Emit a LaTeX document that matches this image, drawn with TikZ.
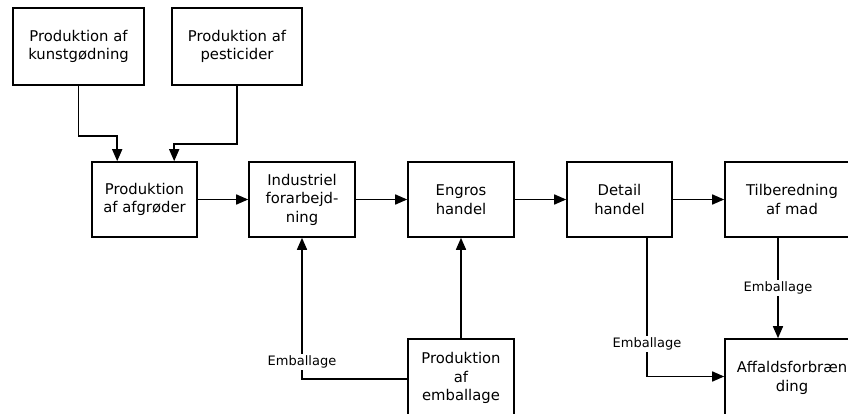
\documentclass[tikz,border=0pt]{standalone}
\usepackage{fontspec}
\setmainfont{DejaVu Sans}
\usetikzlibrary{arrows.meta}
\begin{document}
\begin{tikzpicture}[x=1pt,y=1pt,
  box/.style={draw,line width=1.6pt,minimum height=75pt,align=center,inner sep=0pt,
    font=\fontsize{14.8}{18.5}\selectfont},
  conn/.style={line width=1.5pt,-{Triangle[length=12pt,width=10pt]}},
  lbl/.style={fill=white,inner sep=2pt,font=\fontsize{13}{15}\selectfont}]
\clip (0,0) rectangle (848,-414);
\useasboundingbox (0,0) rectangle (848,-414);
\node[box,minimum width=131pt,minimum height=77pt] (b1) at (78.5,-46.5) {Produktion af\\kunstgødning};
\node[box,minimum width=130pt,minimum height=77pt] (b2) at (237,-46.5) {Produktion af\\pesticider};
\node[box,minimum width=105pt] (b3) at (144.5,-199.5) {Produktion\\af afgrøder};
\node[box,minimum width=106pt] (b4) at (302,-199.5) {Industriel\\forarbejd-\\ning};
\node[box,minimum width=106pt] (b5) at (461,-199.5) {Engros\\handel};
\node[box,minimum width=105pt] (b6) at (619.5,-199.5) {Detail\\handel};
\node[box,minimum width=134pt] (b7) at (792,-199.5) {Tilberedning\\af mad};
\node[box,minimum width=106pt,minimum height=78pt] (b8) at (461,-378) {Produktion\\af\\emballage};
\node[box,minimum width=134pt,minimum height=78pt] (b9) at (792,-378) {Affaldsforbræn\\ding};
\draw[conn] (b1.south) -- ++(0,-50) -| ([xshift=26pt]b3.north west);
\draw[conn] (b2.south) -- ++(0,-58) -| ([xshift=83pt]b3.north west);
\draw[conn] (b3) -- (b4);
\draw[conn] (b4) -- (b5);
\draw[conn] (b5) -- (b6);
\draw[conn] (b6) -- (b7);
\draw[conn] ([yshift=-1pt]b8.west) -| (b4.south);
\draw[conn] (b8.north) -- (b5.south);
\draw[conn] ([xshift=27.5pt]b6.south) |- ([yshift=1.5pt]b9.west);
\draw[conn] ([xshift=-14pt]b7.south) -- ([xshift=-14pt]b9.north);
\node[lbl] (l1) at (302,-362) {Emballage};
\node[lbl] (l2) at (647,-344) {Emballage};
\node[lbl] (l3) at (778,-288) {Emballage};
\end{tikzpicture}
\end{document}
